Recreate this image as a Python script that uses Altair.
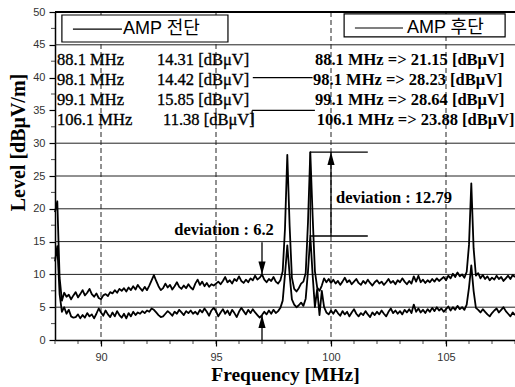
import altair as alt
import pandas as pd

# Spectrum sweep: 88.0 .. 108.0 MHz in 0.1 MHz steps
freq = [round(88.0 + 0.1 * i, 1) for i in range(201)]

# AMP 후단 (after the amplifier), dBuV/m
level_after = [
    19.5, 21.15, 9.5, 6.0, 7.2, 6.6, 6.9, 6.2, 6.8, 7.3,
    6.5, 7.0, 7.6, 6.8, 7.2, 7.8, 7.0, 6.6, 7.1, 6.4,
    6.2, 6.8, 7.0, 6.7, 7.3, 7.1, 7.6, 7.2, 7.8, 7.5,
    7.9, 7.4, 8.0, 7.6, 8.2, 7.7, 8.4, 7.9, 7.5, 8.1,
    7.6, 8.3, 9.1, 9.9, 9.0, 8.2, 7.6, 7.9, 8.6, 8.0,
    8.4, 7.7, 8.2, 8.8, 8.1, 7.8, 8.3, 7.9, 8.5, 8.0,
    7.7, 8.6, 9.2, 8.4, 8.9, 8.2, 8.7, 8.1, 8.5, 8.3,
    8.6, 8.9, 8.5, 9.0, 9.6, 8.8, 9.1, 8.6, 9.3, 9.0,
    9.7, 9.0, 8.7, 9.2, 8.8, 9.4, 9.1, 9.8, 9.2, 9.5,
    10.0, 9.2, 8.8, 9.3, 9.0, 9.6, 8.9, 8.6, 9.1, 10.5,
    17.0, 28.23, 17.5, 9.5, 7.8, 7.4, 7.9, 8.6, 8.9, 10.2,
    18.0, 28.64, 19.0, 10.5, 8.0, 7.5, 8.3, 9.4, 8.8, 9.3,
    8.7, 9.2, 8.6, 9.0, 8.4, 8.9, 9.5, 8.8, 9.1, 8.5,
    8.9, 9.3, 8.7, 8.4, 9.0, 8.6, 9.2, 8.7, 8.3, 8.8,
    9.1, 8.6, 8.9, 8.4, 8.8, 9.3, 8.7, 9.0, 8.5, 9.1,
    8.8, 9.4, 8.9, 8.5, 9.0, 8.6, 9.7, 8.9, 9.8, 8.8,
    9.2, 8.7, 9.1, 8.8, 9.3, 8.9, 9.4, 9.0, 9.3, 9.6,
    9.1, 9.8, 9.4, 10.1, 9.6, 10.3, 9.7, 10.0, 9.5, 10.4,
    14.5, 23.88, 14.0, 9.8, 10.2, 9.4, 9.9, 9.3, 9.7, 9.1,
    9.5, 9.2, 9.8, 9.3, 9.6, 9.0, 9.4, 9.8, 9.3, 9.9,
    9.6,
]

# AMP 전단 (before the amplifier), dBuV/m
level_before = [
    12.0, 14.31, 7.0, 4.3, 5.0, 4.0, 4.6, 3.6, 3.4, 3.5,
    3.9, 3.3, 3.8, 3.4, 4.1, 3.6, 3.9, 3.3, 4.0, 4.8,
    4.2, 3.7, 4.5, 3.9, 3.5, 4.2, 3.6, 4.4, 3.8, 3.4,
    4.0, 3.3, 4.1, 3.6, 4.3, 3.8, 4.2, 4.0, 4.4, 4.1,
    4.5, 4.3, 4.8, 4.6, 4.2, 3.8, 3.5, 3.6, 4.0, 4.4,
    4.1, 3.7, 4.3, 4.0, 4.6, 4.2, 3.8, 4.4, 4.1, 4.5,
    4.0, 4.3, 3.9, 4.6, 4.2, 4.8, 4.3, 3.7, 4.5, 4.9,
    4.4, 3.6, 4.2, 4.7, 4.0, 4.5, 3.8, 4.6, 4.1, 3.5,
    4.3, 4.9, 4.4, 3.9, 4.6, 4.1, 4.7, 4.2, 3.8, 3.4,
    3.8, 4.3, 3.9, 4.5, 4.0, 4.6, 4.1, 4.4, 4.9, 6.0,
    10.0, 14.42, 10.0, 6.2, 5.4, 5.0, 5.3, 5.7, 5.2, 6.3,
    10.5, 15.85, 10.0, 5.0, 7.8, 3.8, 7.5, 5.0, 4.2, 3.9,
    4.5, 4.0, 4.6, 4.1, 3.7, 4.4, 3.9, 4.3, 3.6, 4.2,
    4.7, 4.0, 3.6, 4.1, 3.8, 4.4, 3.9, 3.5, 4.2, 3.8,
    4.3, 3.9, 4.5, 4.0, 3.6, 4.3, 4.8, 4.1, 4.5, 4.0,
    4.4, 3.9, 4.6, 4.2, 4.7, 4.1, 5.4, 4.3, 4.8, 4.2,
    4.6, 4.1, 4.7, 4.3, 4.9, 4.4, 5.0, 4.5, 4.8, 4.3,
    4.7, 5.1, 4.5, 5.0, 4.6, 5.2, 4.7, 5.0, 4.6, 5.4,
    8.0, 11.38, 7.5, 4.9, 4.6, 4.2, 4.7, 4.3, 3.9, 3.6,
    4.1, 4.5, 4.8, 4.2, 4.6, 5.0, 4.4, 4.0, 3.6, 4.2,
    3.8,
]

# Peak readings listed in the table
peak_freqs = ["88.1", "98.1", "99.1", "106.1"]
peak_before = ["14.31", "14.42", "15.85", "11.38"]
peak_after = ["21.15", "28.23", "28.64", "23.88"]

x_major = [90, 95, 100, 105]
y_major = [0, 5, 10, 15, 20, 25, 30, 35, 40, 45, 50]
x_minor = list(range(88, 109))
y_minor = [2.5, 7.5, 12.5, 17.5, 22.5, 27.5, 32.5, 37.5, 42.5, 47.5]
h_grid = [5, 10, 15, 20, 25, 30, 45]

W, H = 460, 328
SERIF = "Liberation Serif"
SANS = "Liberation Sans"
KR = "Liberation Sans, Noto Sans CJK KR"

xs = alt.Scale(domain=[88, 108], nice=False, zero=False)
ys = alt.Scale(domain=[0, 50], nice=False, zero=False)

x_axis = alt.Axis(
    values=x_major, grid=False, domainColor="black", domainWidth=1.5,
    tickColor="black", tickWidth=1.2, tickSize=6,
    labelFont=SANS, labelFontSize=11, labelColor="#333", labelPadding=5,
    title="Frequency [MHz]", titleFont=SERIF, titleFontSize=19.5,
    titleFontWeight="bold", titleColor="black", titlePadding=3,
)
y_axis = alt.Axis(
    values=y_major, grid=False, domainColor="black", domainWidth=1.5,
    tickColor="black", tickWidth=1.2, tickSize=6,
    labelFont=SANS, labelFontSize=11, labelColor="#333", labelPadding=4,
    title="Level [dBμV/m]", titleFont=SERIF, titleFontSize=20,
    titleFontWeight="bold", titleColor="black",
    titleX=-37, titleY=130, titleAngle=270,
    titleAlign="center", titleBaseline="middle",
)


# every layer carries the same axis definition so the merged axes stay intact
def X(field):
    return alt.X(field, type="quantitative", scale=xs, axis=x_axis)


def Y(field):
    return alt.Y(field, type="quantitative", scale=ys, axis=y_axis)


trace_df = pd.DataFrame({
    "freq": freq + freq,
    "level": level_after + level_before,
    "series": ["AMP 후단"] * len(freq) + ["AMP 전단"] * len(freq),
})

# gridlines
hgrid = alt.Chart(pd.DataFrame({"g": h_grid})).mark_rule(
    color="#222", strokeWidth=1
).encode(y=Y("g"))
vgrid = alt.Chart(pd.DataFrame({"g": x_major})).mark_rule(
    color="#222", strokeWidth=1, strokeDash=[5, 3]
).encode(x=X("g"))

# straight annotation segments (data coordinates)
segments = pd.DataFrame([
    {"x": 96.6, "y": 40.0, "x2": 99.2, "y2": 40.0},      # gridline piece between the columns
    {"x": 96.57, "y": 35.0, "x2": 99.3, "y2": 35.0},     # corner of the right-hand table frame
    {"x": 96.57, "y": 35.0, "x2": 96.57, "y2": 32.8},
    {"x": 97.0, "y": 14.9, "x2": 97.0, "y2": 10.0},      # deviation 6.2, down arrow
    {"x": 97.0, "y": 0.0, "x2": 97.0, "y2": 3.8},        # deviation 6.2, up arrow
    {"x": 99.1, "y": 28.64, "x2": 101.6, "y2": 28.64},   # deviation 12.79 bracket
    {"x": 99.1, "y": 28.64, "x2": 99.1, "y2": 15.85},
    {"x": 99.1, "y": 15.85, "x2": 101.6, "y2": 15.85},
    {"x": 100.0, "y": 15.85, "x2": 100.0, "y2": 28.64},
])
seg = alt.Chart(segments).mark_rule(color="black", strokeWidth=1.3).encode(
    x=X("x"), x2="x2", y=Y("y"), y2="y2"
)

heads_down = pd.DataFrame({"x": [97.0], "y": [10.0]})
heads_up = pd.DataFrame({"x": [97.0, 100.0], "y": [3.8, 28.64]})
head_dn = alt.Chart(heads_down).mark_point(
    shape="M0,0 L-0.55,-2 L0.55,-2 Z", filled=True, color="black",
    size=169, opacity=1, strokeWidth=0
).encode(x=X("x"), y=Y("y"))
head_up = alt.Chart(heads_up).mark_point(
    shape="M0,0 L-0.55,2 L0.55,2 Z", filled=True, color="black",
    size=169, opacity=1, strokeWidth=0
).encode(x=X("x"), y=Y("y"))

# legend boxes
boxes = pd.DataFrame([
    {"x": 88.30, "x2": 95.52, "y": 49.54, "y2": 45.43},
    {"x": 100.57, "x2": 107.57, "y": 49.7, "y2": 46.2},
])
box = alt.Chart(boxes).mark_rect(
    fill="white", stroke="black", strokeWidth=1.2
).encode(x=X("x"), x2="x2", y=Y("y"), y2="y2")

keys = pd.DataFrame([
    {"x": 88.78, "x2": 90.91, "y": 47.4, "y2": 47.4},
    {"x": 101.04, "x2": 103.13, "y": 47.56, "y2": 47.56},
])
key = alt.Chart(keys).mark_rule(color="black", strokeWidth=1.2).encode(
    x=X("x"), x2="x2", y=Y("y"), y2="y2"
)
key_text = alt.Chart(pd.DataFrame({
    "x": [90.96, 103.3], "y": [47.4, 47.56], "t": ["AMP 전단", "AMP 후단"],
})).mark_text(
    align="left", baseline="middle", font=KR, fontSize=18, color="black"
).encode(x=X("x"), y=Y("y"), text="t:N")

# peak table
row_y = [42.68, 39.56, 36.51, 33.54]
left_freq = alt.Chart(pd.DataFrame({
    "x": [88.09] * 4, "y": row_y, "t": [f + " MHz" for f in peak_freqs],
})).mark_text(
    align="left", baseline="middle", font=SERIF, fontSize=16.5, color="black",
    stroke="black", strokeWidth=0.35
).encode(x=X("x"), y=Y("y"), text="t:N")
left_val = alt.Chart(pd.DataFrame({
    "x": [92.43, 92.43, 92.43, 92.7], "y": row_y,
    "t": [v + " [dBμV]" for v in peak_before],
})).mark_text(
    align="left", baseline="middle", font=SERIF, fontSize=16.5, color="black",
    stroke="black", strokeWidth=0.35
).encode(x=X("x"), y=Y("y"), text="t:N")
right_col = alt.Chart(pd.DataFrame({
    "x": [99.3, 99.22, 99.3, 99.38], "y": row_y,
    "t": [f + " MHz => " + v + " [dBμV]" for f, v in zip(peak_freqs, peak_after)],
})).mark_text(
    align="left", baseline="middle", font=SERIF, fontSize=16.5,
    fontWeight="bold", color="black"
).encode(x=X("x"), y=Y("y"), text="t:N")

dev_text = alt.Chart(pd.DataFrame({
    "x": [95.35, 102.74], "y": [16.8, 21.6],
    "t": ["deviation : 6.2", "deviation : 12.79"],
})).mark_text(
    align="center", baseline="middle", font=SERIF, fontSize=16.5,
    fontWeight="bold", color="black"
).encode(x=X("x"), y=Y("y"), text="t:N")

# measured traces
traces = alt.Chart(trace_df).mark_line(
    color="black", strokeWidth=1.8, strokeJoin="round"
).encode(
    x=X("freq"), y=Y("level"), detail="series:N"
)

# minor ticks and top frame line
xminor = alt.Chart(pd.DataFrame({"v": x_minor})).mark_tick(
    orient="vertical", color="black", size=4, thickness=1
).encode(x=X("v"), y=alt.value(H + 2))
yminor = alt.Chart(pd.DataFrame({"v": y_minor})).mark_tick(
    orient="horizontal", color="black", size=4, thickness=1
).encode(y=Y("v"), x=alt.value(-2))
top = alt.Chart(pd.DataFrame({"v": [0]})).mark_rule(
    color="black", strokeWidth=2
).encode(x=alt.value(0), x2=alt.value(W), y=alt.value(0))

chart = alt.layer(
    hgrid, vgrid, box, key, key_text, left_freq, left_val, right_col,
    traces, seg, head_dn, head_up, dev_text, xminor, yminor, top,
).properties(
    width=W, height=H,
    autosize=alt.AutoSizeParams(type="none"),
    padding={"left": 55, "top": 12, "right": 0, "bottom": 47},
    background="white",
).configure_view(stroke=None)

chart.save("out.html", embed_options={"renderer": "svg", "actions": False})
